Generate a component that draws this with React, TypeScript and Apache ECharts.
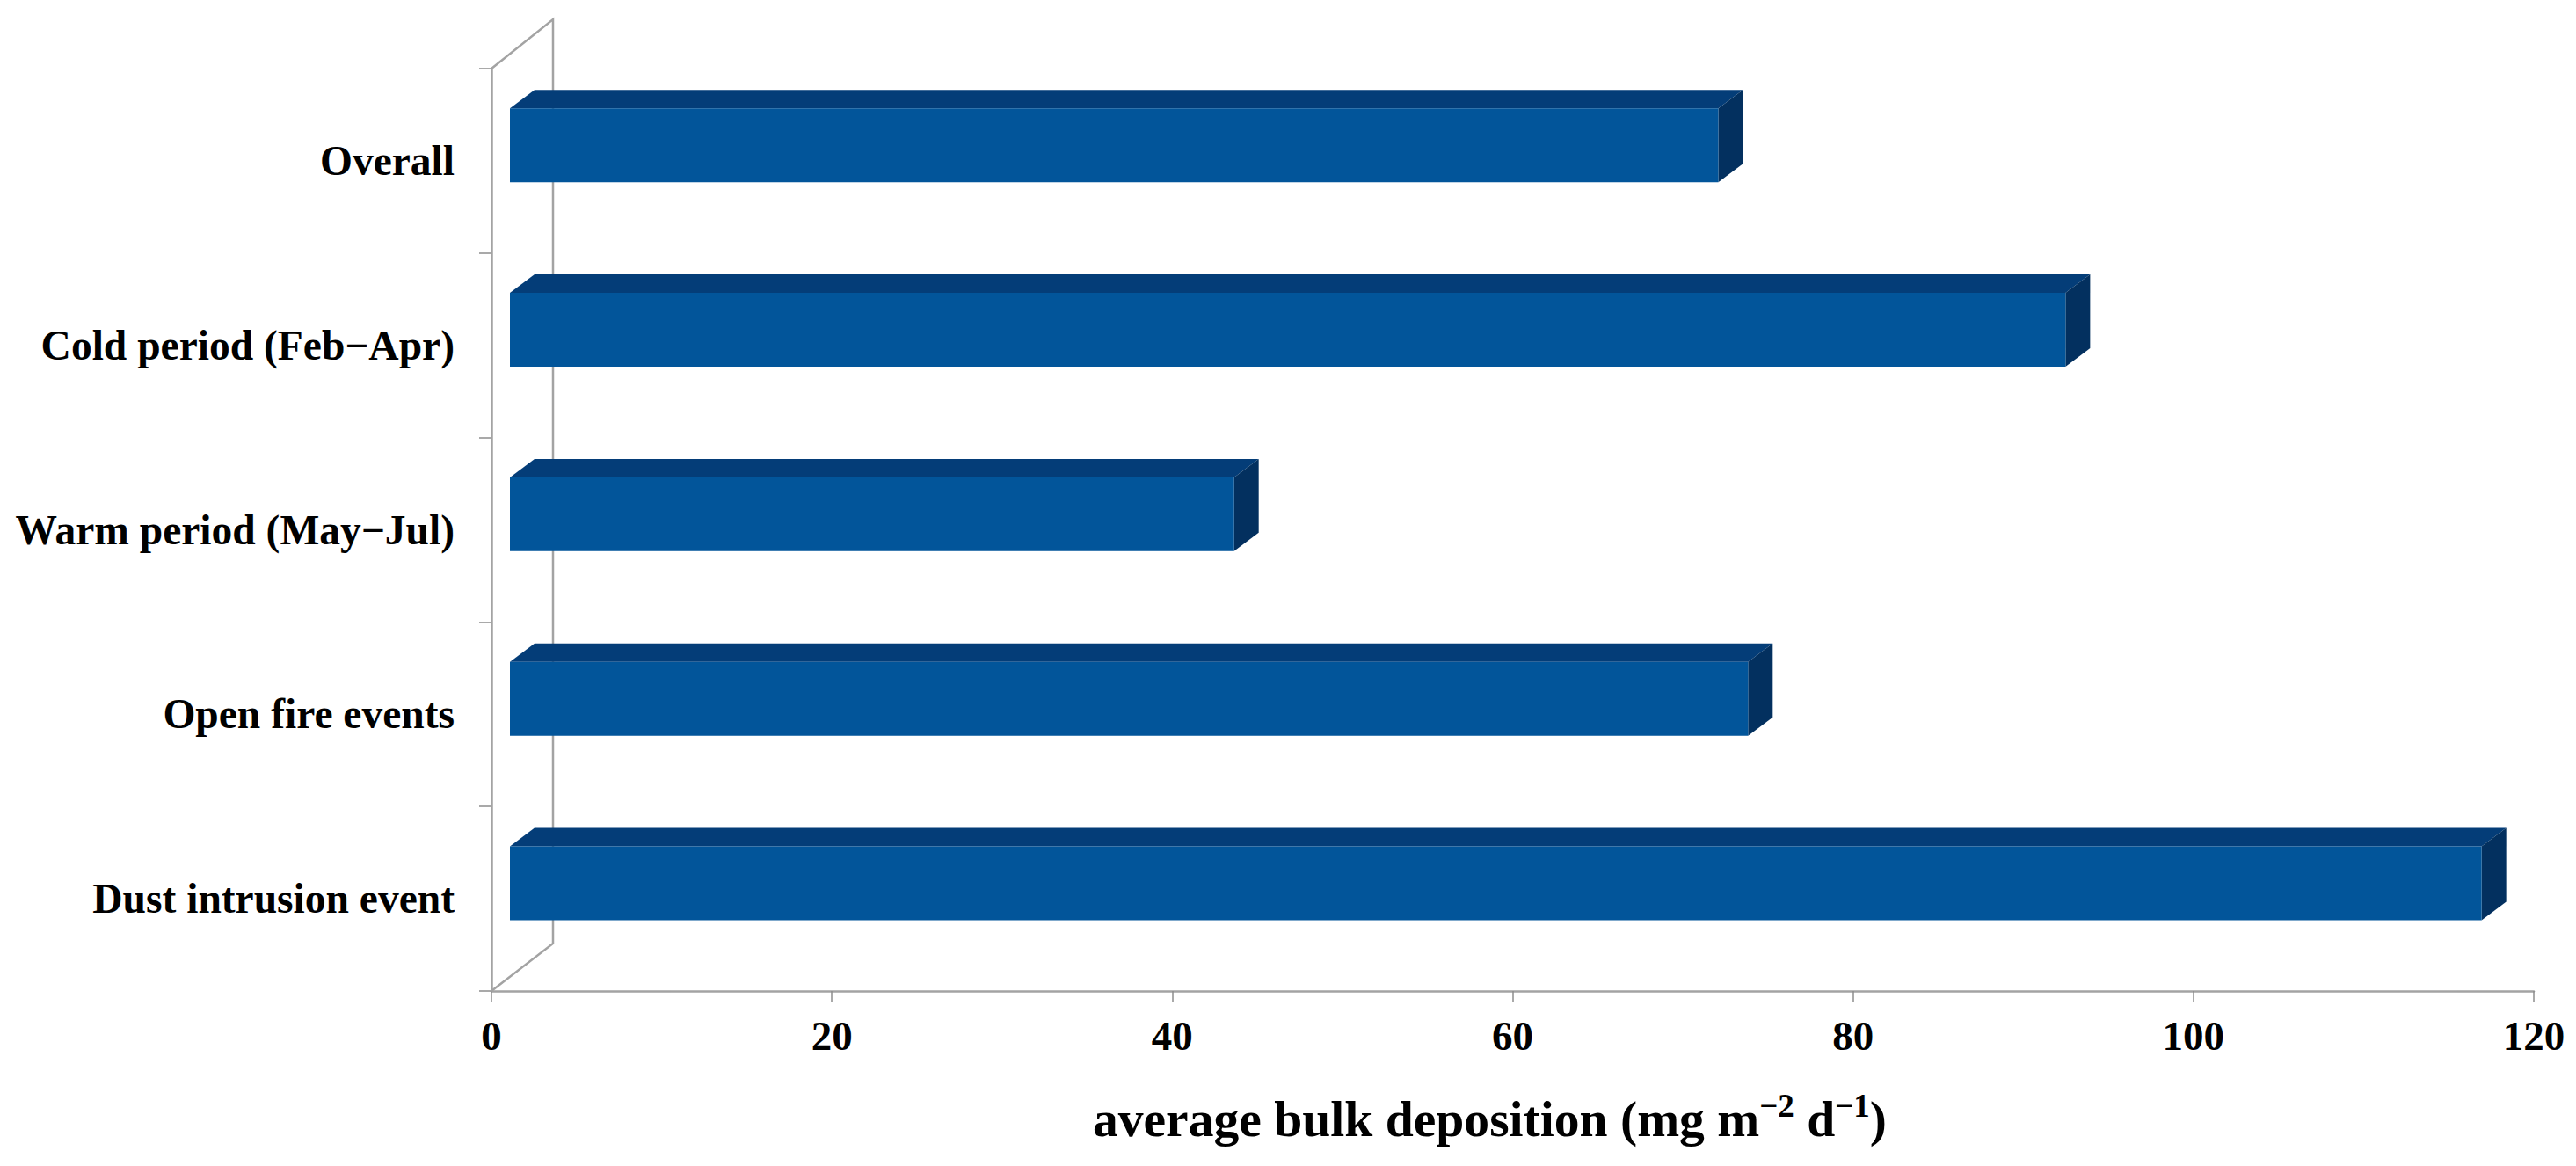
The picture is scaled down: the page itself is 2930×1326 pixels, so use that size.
import React, { useEffect, useRef } from "react";
import * as echarts from "echarts";

const categories = ["Overall", "Cold period (Feb−Apr)", "Warm period (May−Jul)", "Open fire events", "Dust intrusion event"];
const depositionValues = [71, 91.4, 42.55, 72.75, 115.85];
const xMin = 0;
const xMax = 120;
const xStep = 20;

const GRID = { left: 559, right: 48, top: 78, bottom: 199 };
const W = 2930;
const H = 1326;
const FONT = '"Liberation Serif", "Times New Roman", serif';
const AXIS = "#a3a3a3";

function renderBar(params: any, api: any) {
  const value = api.value(0);
  const idx = api.value(1);
  const base = api.coord([0, idx]);
  const end = api.coord([value, idx]);
  const band = api.size([0, 1])[1];
  const h = band * 0.4;
  const inset = 21; // floor offset of the bar inside the 3-D box
  const dx = 28;
  const dy = 21;
  const x0 = base[0] + inset;
  const x1 = end[0] + inset;
  const yTop = base[1] - band * 0.084 - h / 2;
  const yBot = yTop + h;
  return {
    type: "group",
    children: [
      {
        type: "polygon",
        shape: { points: [[x0, yTop], [x0 + dx, yTop - dy], [x1 + dx, yTop - dy], [x1, yTop]] },
        style: { fill: "#043d78" },
      },
      {
        type: "polygon",
        shape: { points: [[x1, yTop], [x1 + dx, yTop - dy], [x1 + dx, yBot - dy], [x1, yBot]] },
        style: { fill: "#03305f" },
      },
      {
        type: "rect",
        shape: { x: x0, y: yTop, width: x1 - x0, height: h },
        style: { fill: "#02559a" },
      },
    ],
  };
}

export default function App() {
  const ref = useRef<HTMLDivElement>(null);
  useEffect(() => {
    const chart = echarts.init(ref.current!, undefined, { renderer: "svg" });
    const gy0 = GRID.top;
    const gy1 = H - GRID.bottom;
    const gx0 = GRID.left;
    chart.setOption({
      animation: false,
      backgroundColor: "#fff",
      grid: { left: GRID.left, right: GRID.right, top: GRID.top, bottom: GRID.bottom, containLabel: false },
      xAxis: {
        type: "value",
        min: xMin,
        max: xMax,
        interval: xStep,
        splitLine: { show: false },
        axisLine: { show: true, lineStyle: { color: AXIS, width: 2.5 } },
        axisTick: { show: true, length: 13, lineStyle: { color: "#8c8c8c", width: 1.5 } },
        axisLabel: {
          margin: 27,
          color: "#000",
          fontFamily: FONT,
          fontWeight: "bold",
          fontSize: 47,
          hideOverlap: false,
        },
        name: "{a|average bulk deposition (mg m}{s|−2}{a| d}{s|−1}{a|)}",
        nameLocation: "middle",
        nameGap: 112,
        nameTextStyle: {
          padding: [0, 52, 0, 0],
          rich: {
            a: { fontFamily: FONT, fontWeight: "bold", fontSize: 57.6, color: "#000", lineHeight: 66 },
            s: { fontFamily: FONT, fontWeight: "bold", fontSize: 37, color: "#000", lineHeight: 66, verticalAlign: "top" },
          },
        },
      },
      yAxis: {
        type: "category",
        inverse: true,
        data: categories,
        boundaryGap: true,
        splitLine: { show: false },
        axisLine: { show: true, lineStyle: { color: AXIS, width: 2.5 } },
        axisTick: { show: true, length: 14, alignWithLabel: false, lineStyle: { color: "#8c8c8c", width: 1.5 } },
        axisLabel: {
          margin: 42,
          color: "#000",
          fontFamily: FONT,
          fontWeight: "bold",
          fontSize: 47.5,
          interval: 0,
        },
      },
      graphic: [
        {
          type: "polyline",
          z: 1,
          shape: { points: [[gx0, gy0], [gx0 + 70, gy0 - 56], [gx0 + 70, gy1 - 54], [gx0, gy1]] },
          style: { stroke: AXIS, lineWidth: 2.5, fill: "none" },
        },
      ],
      series: [
        {
          type: "custom",
          z: 5,
          renderItem: renderBar,
          encode: { x: 0, y: 1 },
          data: depositionValues.map((v, i) => [v, i]),
          silent: true,
        },
      ],
    });
    return () => chart.dispose();
  }, []);
  return <div ref={ref} style={{ position: "fixed", left: 0, top: 0, width: W, height: H }} />;
}
